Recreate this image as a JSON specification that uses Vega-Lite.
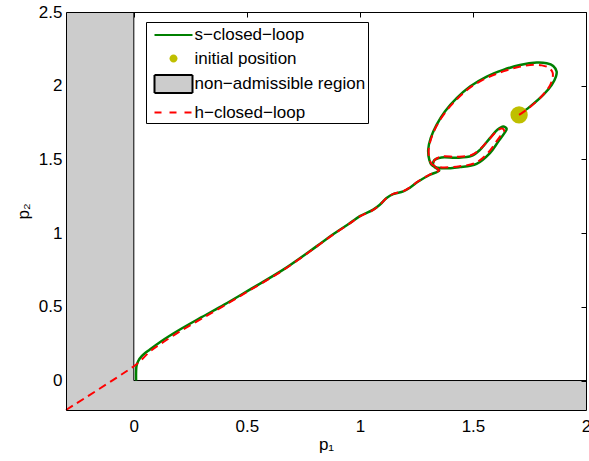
{
  "$schema": "https://vega.github.io/schema/vega-lite/v6.json",
  "width": 520,
  "height": 398,
  "autosize": {"type": "none"},
  "padding": {"left": 66, "top": 12, "right": 3, "bottom": 51},
  "background": "white",
  "config": {
    "font": "Liberation Sans",
    "view": {"stroke": null},
    "axis": {
      "labelFontSize": 17,
      "titleFontSize": 17,
      "titleFontWeight": "normal",
      "labelColor": "black",
      "titleColor": "black",
      "domainColor": "black",
      "domainWidth": 1,
      "tickColor": "black",
      "grid": false,
      "labelFont": "Liberation Sans",
      "titleFont": "Liberation Sans"
    }
  },
  "datasets": {
    "legendrows": [
      {"series": "s−closed−loop"}, {"series": "initial position"}, {"series": "non−admissible region"}, {"series": "h−closed−loop"}
    ],
    "region": [
      {"x": -0.3, "x2": 0, "y": -0.2, "y2": 2.5},
      {"x": -0.3, "x2": 2, "y": -0.2, "y2": 0}
    ],
    "boundary": [
      {"x": 0, "y": 0, "x2": 0, "y2": 2.5},
      {"x": 0, "y": 0, "x2": 2, "y2": 0}
    ],
    "s": [
      {"i": 1, "x": 1.704, "y": 1.802}, {"i": 2, "x": 1.752, "y": 1.858}, {"i": 3, "x": 1.811, "y": 1.938},
      {"i": 4, "x": 1.848, "y": 2.005}, {"i": 5, "x": 1.867, "y": 2.062}, {"i": 6, "x": 1.870, "y": 2.096},
      {"i": 7, "x": 1.855, "y": 2.134}, {"i": 8, "x": 1.826, "y": 2.152}, {"i": 9, "x": 1.782, "y": 2.157},
      {"i": 10, "x": 1.708, "y": 2.141}, {"i": 11, "x": 1.634, "y": 2.107}, {"i": 12, "x": 1.561, "y": 2.062},
      {"i": 13, "x": 1.487, "y": 1.994}, {"i": 14, "x": 1.428, "y": 1.915}, {"i": 15, "x": 1.376, "y": 1.825},
      {"i": 16, "x": 1.339, "y": 1.734}, {"i": 17, "x": 1.313, "y": 1.644}, {"i": 18, "x": 1.302, "y": 1.565},
      {"i": 19, "x": 1.307, "y": 1.497}, {"i": 20, "x": 1.317, "y": 1.463}, {"i": 21, "x": 1.354, "y": 1.441},
      {"i": 22, "x": 1.442, "y": 1.448}, {"i": 23, "x": 1.516, "y": 1.470}, {"i": 24, "x": 1.575, "y": 1.543},
      {"i": 25, "x": 1.612, "y": 1.621}, {"i": 26, "x": 1.639, "y": 1.678}, {"i": 27, "x": 1.649, "y": 1.707},
      {"i": 28, "x": 1.634, "y": 1.723}, {"i": 29, "x": 1.608, "y": 1.701}, {"i": 30, "x": 1.575, "y": 1.644},
      {"i": 31, "x": 1.531, "y": 1.565}, {"i": 32, "x": 1.494, "y": 1.524}, {"i": 33, "x": 1.428, "y": 1.511},
      {"i": 34, "x": 1.361, "y": 1.513}, {"i": 35, "x": 1.327, "y": 1.491}, {"i": 36, "x": 1.327, "y": 1.452},
      {"i": 37, "x": 1.351, "y": 1.425}, {"i": 38, "x": 1.31, "y": 1.396}, {"i": 39, "x": 1.258, "y": 1.35},
      {"i": 40, "x": 1.221, "y": 1.308}, {"i": 41, "x": 1.192, "y": 1.283}, {"i": 42, "x": 1.147, "y": 1.265},
      {"i": 43, "x": 1.118, "y": 1.238}, {"i": 44, "x": 1.088, "y": 1.192}, {"i": 45, "x": 1.059, "y": 1.159},
      {"i": 46, "x": 1.0, "y": 1.115}, {"i": 47, "x": 0.956, "y": 1.068}, {"i": 48, "x": 0.88, "y": 0.99},
      {"i": 49, "x": 0.808, "y": 0.91}, {"i": 50, "x": 0.661, "y": 0.752}, {"i": 51, "x": 0.513, "y": 0.617},
      {"i": 52, "x": 0.40, "y": 0.515}, {"i": 53, "x": 0.30, "y": 0.43}, {"i": 54, "x": 0.204, "y": 0.346},
      {"i": 55, "x": 0.12, "y": 0.265}, {"i": 56, "x": 0.071, "y": 0.21}, {"i": 57, "x": 0.035, "y": 0.165},
      {"i": 58, "x": 0.019, "y": 0.131}, {"i": 59, "x": 0.012, "y": 0.1}, {"i": 60, "x": 0.01, "y": 0.06},
      {"i": 61, "x": 0.01, "y": 0.0}
    ],
    "h": [
      {"i": 1, "x": 1.704, "y": 1.802}, {"i": 2, "x": 1.75, "y": 1.852}, {"i": 3, "x": 1.805, "y": 1.93},
      {"i": 4, "x": 1.838, "y": 1.995}, {"i": 5, "x": 1.852, "y": 2.05}, {"i": 6, "x": 1.852, "y": 2.09},
      {"i": 7, "x": 1.835, "y": 2.122}, {"i": 8, "x": 1.805, "y": 2.138}, {"i": 9, "x": 1.77, "y": 2.142},
      {"i": 10, "x": 1.705, "y": 2.128}, {"i": 11, "x": 1.634, "y": 2.097}, {"i": 12, "x": 1.561, "y": 2.053},
      {"i": 13, "x": 1.49, "y": 1.99}, {"i": 14, "x": 1.43, "y": 1.91}, {"i": 15, "x": 1.378, "y": 1.82},
      {"i": 16, "x": 1.34, "y": 1.73}, {"i": 17, "x": 1.315, "y": 1.64}, {"i": 18, "x": 1.304, "y": 1.563},
      {"i": 19, "x": 1.308, "y": 1.50}, {"i": 20, "x": 1.32, "y": 1.465}, {"i": 21, "x": 1.355, "y": 1.447},
      {"i": 22, "x": 1.442, "y": 1.454}, {"i": 23, "x": 1.512, "y": 1.477}, {"i": 24, "x": 1.568, "y": 1.547},
      {"i": 25, "x": 1.604, "y": 1.622}, {"i": 26, "x": 1.629, "y": 1.676}, {"i": 27, "x": 1.638, "y": 1.698},
      {"i": 28, "x": 1.627, "y": 1.710}, {"i": 29, "x": 1.606, "y": 1.693}, {"i": 30, "x": 1.574, "y": 1.64},
      {"i": 31, "x": 1.53, "y": 1.568}, {"i": 32, "x": 1.494, "y": 1.53}, {"i": 33, "x": 1.428, "y": 1.518},
      {"i": 34, "x": 1.361, "y": 1.519}, {"i": 35, "x": 1.33, "y": 1.495}, {"i": 36, "x": 1.328, "y": 1.455},
      {"i": 37, "x": 1.35, "y": 1.428}, {"i": 38, "x": 1.31, "y": 1.398}, {"i": 39, "x": 1.258, "y": 1.352},
      {"i": 40, "x": 1.221, "y": 1.31}, {"i": 41, "x": 1.192, "y": 1.285}, {"i": 42, "x": 1.147, "y": 1.266},
      {"i": 43, "x": 1.118, "y": 1.238}, {"i": 44, "x": 1.088, "y": 1.192}, {"i": 45, "x": 1.059, "y": 1.158},
      {"i": 46, "x": 1.0, "y": 1.113}, {"i": 47, "x": 0.956, "y": 1.066}, {"i": 48, "x": 0.88, "y": 0.988},
      {"i": 49, "x": 0.808, "y": 0.908}, {"i": 50, "x": 0.661, "y": 0.749}, {"i": 51, "x": 0.513, "y": 0.612},
      {"i": 52, "x": 0.40, "y": 0.508}, {"i": 53, "x": 0.30, "y": 0.42}, {"i": 54, "x": 0.204, "y": 0.333},
      {"i": 55, "x": 0.12, "y": 0.25}, {"i": 56, "x": 0.07, "y": 0.195}, {"i": 57, "x": 0.03, "y": 0.135},
      {"i": 58, "x": 0.0, "y": 0.097}, {"i": 59, "x": -0.3, "y": -0.2}
    ],
    "init": [{"x": 1.704, "y": 1.802}]
  },
  "resolve": {"axis": {"x": "independent", "y": "independent"}},
  "layer": [
    {
      "data": {"name": "region"},
      "mark": {"type": "rect", "color": "#cccccc", "strokeWidth": 0, "opacity": 1},
      "encoding": {
        "x": {"field": "x", "type": "quantitative", "scale": {"domain": [-0.3, 2], "nice": false, "zero": false},
          "axis": {"orient": "bottom", "values": [0, 0.5, 1, 1.5, 2], "format": "~g", "ticks": false, "tickSize": 0,
            "labelPadding": 8, "title": "p₁", "titlePadding": 2, "zindex": 1, "labelFlush": false, "labelOverlap": false}},
        "x2": {"field": "x2"},
        "y": {"field": "y", "type": "quantitative", "scale": {"domain": [-0.2, 2.5], "nice": false, "zero": false},
          "axis": {"orient": "left", "values": [0, 0.5, 1, 1.5, 2, 2.5], "format": "~g", "ticks": false, "tickSize": 0,
            "labelPadding": 4, "title": "p₂", "titlePadding": 6, "zindex": 1, "labelFlush": false, "labelOverlap": false}},
        "y2": {"field": "y2"}
      }
    },
    {
      "data": {"name": "boundary"},
      "mark": {"type": "rule", "color": "black", "strokeWidth": 1},
      "encoding": {
        "x": {"field": "x", "type": "quantitative", "axis": null},
        "y": {"field": "y", "type": "quantitative", "axis": null},
        "x2": {"field": "x2"},
        "y2": {"field": "y2"}
      }
    },
    {
      "data": {"name": "s"},
      "mark": {"type": "line", "color": "#008000", "strokeWidth": 2.5, "interpolate": "catmull-rom"},
      "encoding": {
        "x": {"field": "x", "type": "quantitative", "axis": null},
        "y": {"field": "y", "type": "quantitative", "axis": null},
        "order": {"field": "i", "type": "quantitative"}
      }
    },
    {
      "data": {"name": "init"},
      "mark": {"type": "point", "shape": "circle", "filled": true, "color": "#bfbf00", "size": 300, "opacity": 1},
      "encoding": {
        "x": {"field": "x", "type": "quantitative",
          "axis": {"orient": "top", "values": [0, 0.5, 1, 1.5, 2], "labels": false, "title": null, "ticks": true, "tickSize": -5, "zindex": 1}},
        "y": {"field": "y", "type": "quantitative",
          "axis": {"orient": "right", "values": [0, 0.5, 1, 1.5, 2, 2.5], "labels": false, "title": null, "ticks": true, "tickSize": -5, "zindex": 1}}
      }
    },
    {
      "data": {"name": "h"},
      "mark": {"type": "line", "color": "#ff0000", "strokeWidth": 2, "strokeDash": [8, 5], "interpolate": "catmull-rom"},
      "encoding": {
        "x": {"field": "x", "type": "quantitative", "axis": null},
        "y": {"field": "y", "type": "quantitative", "axis": null},
        "order": {"field": "i", "type": "quantitative"}
      }
    },
    {
      "data": {"name": "legendrows"},
      "transform": [{"filter": "false"}],
      "mark": {"type": "point", "filled": true, "opacity": 1},
      "encoding": {
        "fill": {
          "field": "series", "type": "nominal",
          "scale": {"domain": ["s−closed−loop", "initial position", "non−admissible region", "h−closed−loop"],
            "range": ["transparent", "#bfbf00", "#cccccc", "transparent"]},
          "legend": {
            "title": null, "orient": "none", "legendX": 80, "legendY": 10, "direction": "vertical", "columns": 1,
            "padding": 2, "fillColor": "white", "strokeColor": "black",
            "symbolSize": 400, "symbolOffset": 14.5, "labelOffset": 10, "rowPadding": 4.5,
            "symbolStrokeWidth": 2, "symbolOpacity": 1,
            "labelFontSize": 17, "labelFont": "Liberation Sans", "labelColor": "black", "labelLimit": 400
          }
        },
        "stroke": {
          "field": "series", "type": "nominal",
          "scale": {"domain": ["s−closed−loop", "initial position", "non−admissible region", "h−closed−loop"],
            "range": ["#008000", "transparent", "#000000", "#ff0000"]},
          "legend": {"title": null}
        },
        "shape": {
          "field": "series", "type": "nominal",
          "scale": {"domain": ["s−closed−loop", "initial position", "non−admissible region", "h−closed−loop"],
            "range": ["M-1.9,0L1.9,0", "M0.4,0A0.4,0.4,0,1,1,-0.4,0A0.4,0.4,0,1,1,0.4,0Z", "M-1.9,-0.9L1.9,-0.9L1.9,0.9L-1.9,0.9Z", "M-1.9,0L1.9,0"]},
          "legend": {"title": null}
        },
        "strokeDash": {
          "field": "series", "type": "nominal",
          "scale": {"domain": ["s−closed−loop", "initial position", "non−admissible region", "h−closed−loop"],
            "range": [[1, 0], [1, 0], [1, 0], [7, 8]]},
          "legend": {"title": null}
        }
      }
    }
  ]
}
